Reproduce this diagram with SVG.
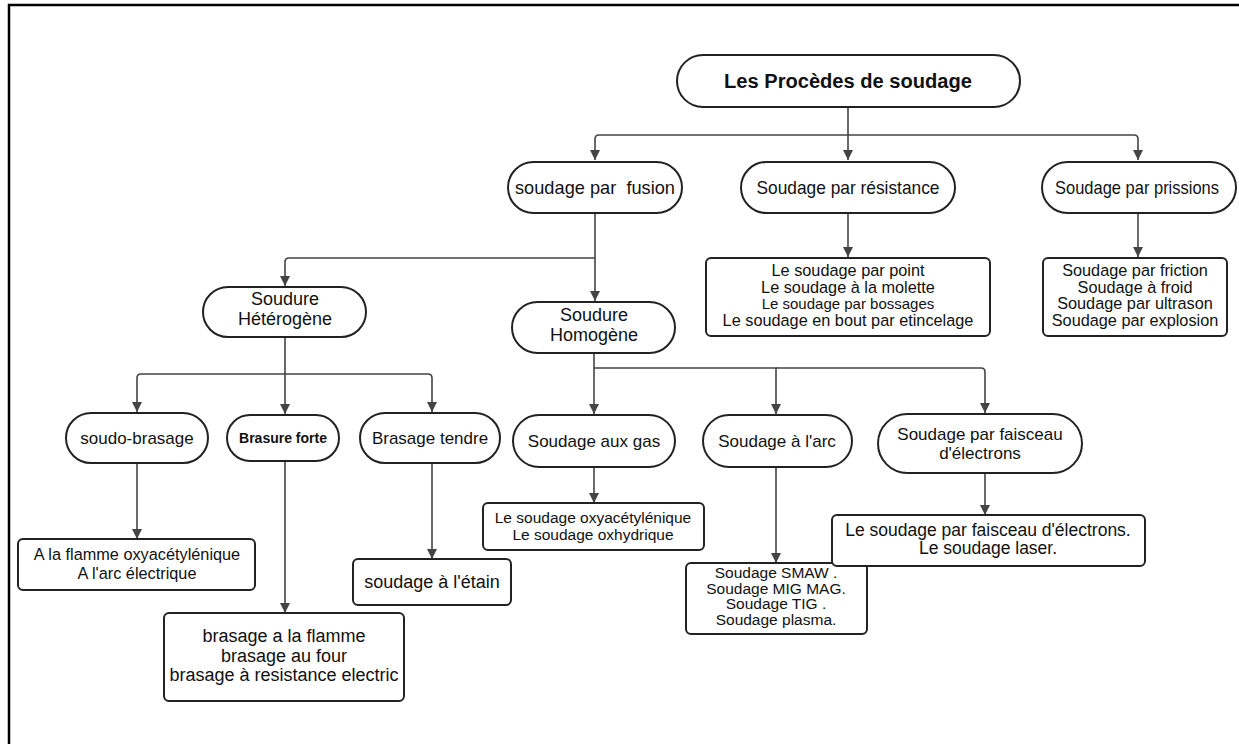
<svg xmlns="http://www.w3.org/2000/svg" width="1239" height="744" viewBox="0 0 1239 744">
<defs>
<style>
.frame{fill:none;stroke:#000;stroke-width:2.5}
.st{fill:#fff;stroke:#222;stroke-width:2}
.bx{fill:#fff;stroke:#222;stroke-width:2}
.cn{fill:none;stroke:#444;stroke-width:1.6;marker-end:url(#ah)}
text{font-family:"Liberation Sans",Arial,sans-serif;fill:#111;text-anchor:middle}
.t17{font-size:17px}
.t16{font-size:16.3px}
.t15{font-size:15.5px}
.t18{font-size:18px}
</style>
<marker id="ah" viewBox="0 0 10 10" refX="10" refY="5" markerWidth="12" markerHeight="10" markerUnits="userSpaceOnUse" orient="auto">
<path d="M0,0 L10,5 L0,10 z" fill="#444"/>
</marker>
</defs>
<rect x="0" y="0" width="1239" height="744" fill="#fff"/>
<path class="frame" d="M9,760 V5 H1250"/>

<g id="connectors">
<path class="cn" d="M848,107 V160"/>
<path class="cn" d="M848,135 H599 Q595,135 595,139 V160"/>
<path class="cn" d="M848,135 H1134 Q1138,135 1138,139 V160"/>
<path class="cn" d="M848,213 V257"/>
<path class="cn" d="M1138,213 V257"/>
<path class="cn" d="M595,213 V301"/>
<path class="cn" d="M595,258 H289 Q285,258 285,262 V286"/>
<path class="cn" d="M285,337 V414"/>
<path class="cn" d="M285,374 H141 Q137,374 137,378 V412"/>
<path class="cn" d="M285,374 H428 Q432,374 432,378 V412"/>
<path class="cn" d="M594,353 V414"/>
<path class="cn" d="M594,368 H776 V414"/>
<path class="cn" d="M776,368 H981 Q985,368 985,372 V413"/>
<path class="cn" d="M594,467 V503"/>
<path class="cn" d="M776,467 V563"/>
<path class="cn" d="M985,473 V515"/>
<path class="cn" d="M137,463 V539"/>
<path class="cn" d="M285,461 V613"/>
<path class="cn" d="M432,463 V559"/>
</g>

<g id="n-title">
<rect class="st" x="677" y="55" width="343" height="52" rx="26"/>
<text x="848" y="88" style="font-size:20px;font-weight:bold" textLength="248" lengthAdjust="spacingAndGlyphs">Les Procèdes de soudage</text>
</g>

<g id="n-fusion">
<rect class="st" x="508" y="162" width="174" height="51" rx="25.5"/>
<text x="595" y="194" style="font-size:19px;white-space:pre" textLength="160" lengthAdjust="spacingAndGlyphs">soudage par  fusion</text>
</g>
<g id="n-resistance">
<rect class="st" x="741" y="162" width="214" height="51" rx="25.5"/>
<text x="848" y="194" style="font-size:19px" textLength="183" lengthAdjust="spacingAndGlyphs">Soudage par résistance</text>
</g>
<g id="n-prissions">
<rect class="st" x="1042" y="162" width="194" height="51" rx="25.5"/>
<text x="1137" y="194" style="font-size:18.5px" textLength="164" lengthAdjust="spacingAndGlyphs">Soudage par prissions</text>
</g>

<g id="n-resistance-list">
<rect class="bx" x="706" y="258" width="284" height="78" rx="5"/>
<text class="t16" x="848" y="276">Le soudage par point</text>
<text class="t16" x="848" y="293">Le soudage à la molette</text>
<text x="848" y="309" style="font-size:15px">Le soudage par bossages</text>
<text class="t16" x="848" y="326">Le soudage en bout par etincelage</text>
</g>
<g id="n-prissions-list">
<rect class="bx" x="1043" y="258" width="184" height="78" rx="5"/>
<text class="t16" x="1135" y="276">Soudage par friction</text>
<text class="t16" x="1135" y="292.5">Soudage à froid</text>
<text class="t16" x="1135" y="309">Soudage par ultrason</text>
<text class="t16" x="1135" y="326">Soudage par explosion</text>
</g>

<g id="n-heterogene">
<rect class="st" x="203" y="287" width="163" height="50" rx="25"/>
<text class="t18" x="285" y="305">Soudure</text>
<text class="t18" x="285" y="325">Hétérogène</text>
</g>
<g id="n-homogene">
<rect class="st" x="512" y="302" width="163" height="51" rx="25.5"/>
<text class="t18" x="594" y="321">Soudure</text>
<text class="t18" x="594" y="341">Homogène</text>
</g>

<g id="n-soudo-brasage">
<rect class="st" x="66" y="413" width="142" height="50" rx="25"/>
<text class="t17" x="137" y="444">soudo-brasage</text>
</g>
<g id="n-brasure-forte">
<rect class="st" x="227" y="415" width="112" height="46" rx="23"/>
<text x="283" y="443" style="font-size:14px;font-weight:bold">Brasure forte</text>
</g>
<g id="n-brasage-tendre">
<rect class="st" x="360" y="413" width="140" height="50" rx="25"/>
<text class="t17" x="430" y="444">Brasage tendre</text>
</g>

<g id="n-gas">
<rect class="st" x="513" y="415" width="162" height="52" rx="26"/>
<text class="t17" x="594" y="447">Soudage aux gas</text>
</g>
<g id="n-arc">
<rect class="st" x="703" y="415" width="149" height="52" rx="26"/>
<text class="t17" x="777" y="447">Soudage à l'arc</text>
</g>
<g id="n-faisceau">
<rect class="st" x="878" y="414" width="204" height="59" rx="29.5"/>
<text class="t17" x="980" y="440">Soudage par faisceau</text>
<text class="t17" x="980" y="459">d'électrons</text>
</g>

<g id="n-gas-list">
<rect class="bx" x="483" y="503" width="221" height="47" rx="5"/>
<text class="t15" x="593" y="523">Le soudage oxyacétylénique</text>
<text class="t15" x="593" y="540">Le soudage oxhydrique</text>
</g>
<g id="n-arc-list">
<rect class="bx" x="686" y="563" width="181" height="71" rx="5"/>
<text class="t15" x="776" y="578">Soudage SMAW .</text>
<text class="t15" x="776" y="593.5">Soudage MIG MAG.</text>
<text class="t15" x="776" y="609">Soudage TIG .</text>
<text class="t15" x="776" y="624.5">Soudage plasma.</text>
</g>
<g id="n-faisceau-list">
<rect class="bx" x="832" y="515" width="313" height="51" rx="5"/>
<text x="988" y="536" style="font-size:17.5px">Le soudage par faisceau d'électrons.</text>
<text x="988" y="554" style="font-size:17.5px">Le soudage laser.</text>
</g>

<g id="n-soudo-list">
<rect class="bx" x="18" y="539" width="237" height="51" rx="5"/>
<text class="t16" x="137" y="560">A la flamme oxyacétylénique</text>
<text class="t16" x="137" y="579">A l'arc électrique</text>
</g>
<g id="n-forte-list">
<rect class="bx" x="164" y="613" width="240" height="88" rx="5"/>
<text class="t18" x="284" y="642">brasage a la flamme</text>
<text class="t18" x="284" y="662">brasage au four</text>
<text class="t18" x="284" y="681">brasage à resistance electric</text>
</g>
<g id="n-tendre-list">
<rect class="bx" x="353" y="559" width="158" height="46" rx="5"/>
<text class="t18" x="432" y="588">soudage à l'étain</text>
</g>
</svg>
